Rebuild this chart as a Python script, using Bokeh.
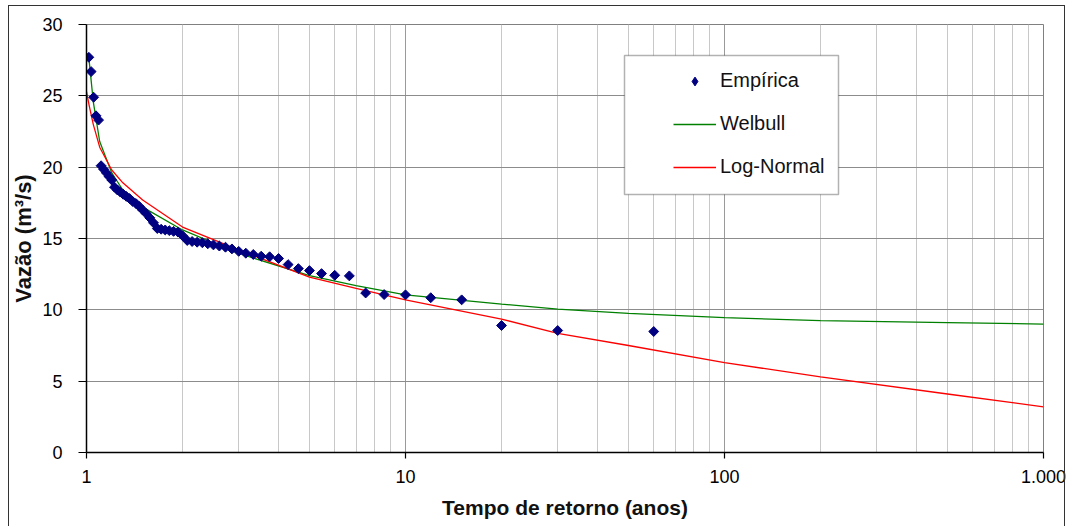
from bokeh.plotting import figure
from bokeh.models import (Range1d, FixedTicker, CustomJSTickFormatter, BoxAnnotation,
                          Legend, LegendItem, InlineStyleSheet)
from bokeh.embed import file_html
from bokeh.resources import INLINE
import math

# ---------------- data ----------------
# Empirical points: return period (years) and flow (m3/s)
emp_T = [60, 30, 20, 15, 12, 10, 8.571, 7.5, 6.667, 6, 5.455, 5, 4.615, 4.286, 4,
         3.75, 3.529, 3.333, 3.158, 3, 2.857, 2.727, 2.609, 2.5, 2.4, 2.308, 2.222,
         2.143, 2.069, 2, 1.935, 1.875, 1.818, 1.765, 1.714, 1.667, 1.622, 1.579,
         1.538, 1.5, 1.463, 1.429, 1.395, 1.364, 1.333, 1.304, 1.277, 1.25, 1.224,
         1.2, 1.176, 1.154, 1.132, 1.111, 1.091, 1.071, 1.053, 1.034, 1.017]
emp_Q = [8.48, 8.55, 8.9, 10.7, 10.85, 11.05, 11.07, 11.18, 12.38, 12.42, 12.54,
         12.75, 12.89, 13.17, 13.6, 13.72, 13.76, 13.88, 13.97, 14.1, 14.27, 14.39,
         14.47, 14.55, 14.63, 14.7, 14.74, 14.79, 14.86, 15.2, 15.45, 15.5, 15.55,
         15.6, 15.65, 15.7, 16.1, 16.45, 16.75, 17.0, 17.25, 17.45, 17.6, 17.8,
         17.95, 18.1, 18.25, 18.4, 18.6, 19.1, 19.35, 19.6, 19.85, 20.1, 23.3,
         23.6, 24.9, 26.7, 27.7]

weibull_T = [1.015, 1.02, 1.05, 1.1, 1.2, 1.3, 1.5, 2, 3, 5, 7, 10, 20, 30, 50,
             100, 200, 500, 1000]
weibull_Q = [28.0, 27.4, 24.6, 21.8, 19.6, 18.4, 17.2, 15.6, 13.95, 12.4, 11.7,
             11.05, 10.4, 10.05, 9.75, 9.45, 9.25, 9.1, 9.0]

lognormal_T = [1.0, 1.02, 1.05, 1.1, 1.2, 1.3, 1.5, 2, 3, 5, 7, 10, 20, 30, 50,
               100, 200, 500, 1000]
lognormal_Q = [25.3, 24.3, 23.0, 21.4, 19.8, 18.9, 17.7, 15.8, 14.2, 12.3, 11.5,
               10.7, 9.35, 8.35, 7.5, 6.3, 5.3, 4.1, 3.2]

x_ticks = [1, 10, 100, 1000]
x_tick_labels = ["1", "10", "100", "1.000"]
x_minor = [2, 3, 4, 5, 6, 7, 8, 9, 20, 30, 40, 50, 60, 70, 80, 90,
           200, 300, 400, 500, 600, 700, 800, 900]
y_ticks = [0, 5, 10, 15, 20, 25, 30]

series_names = ["Empírica", "Welbull", "Log-Normal"]
x_title = "Tempo de retorno (anos)"
y_title = "Vazão (m³/s)"

FONT = "Liberation Sans"
NAVY = "#000080"

p = figure(width=1073, height=527, x_axis_type="log",
           x_range=Range1d(1, 1000), y_range=Range1d(0, 30),
           output_backend="svg", toolbar_location=None)
p.min_border_left = 86
p.min_border_right = 30
p.min_border_top = 24
p.min_border_bottom = 75
p.outline_line_color = "#808080"
p.background_fill_color = "white"
p.border_fill_color = "white"

# outer chart frame (left, top and right edges; bottom is off-page in the reference)
p.stylesheets = [InlineStyleSheet(css="""
:host { position: relative; overflow: hidden; }
:host::after {
  content: ""; position: absolute; left: 8px; top: 5px;
  width: 1055px; height: 520px;
  border: 1.5px solid #333333; border-bottom: none;
  pointer-events: none; z-index: 100;
}
""")]

# axes
p.xaxis.ticker = FixedTicker(ticks=x_ticks, minor_ticks=x_minor)
p.xaxis.formatter = CustomJSTickFormatter(
    args=dict(vals=x_ticks, labs=x_tick_labels),
    code="const i = vals.indexOf(tick); return i >= 0 ? labs[i] : String(tick);")
p.yaxis.ticker = FixedTicker(ticks=y_ticks)

for ax in (p.xaxis[0], p.yaxis[0]):
    ax.axis_line_color = "black"
    ax.axis_line_width = 1.5
    ax.major_tick_line_color = "black"
    ax.major_tick_line_width = 1.2
    ax.major_tick_in = 0
    ax.minor_tick_line_color = None
    ax.major_label_text_font = FONT
    ax.major_label_text_font_size = "18px"
    ax.major_label_text_color = "black"
    ax.axis_label_text_font = FONT
    ax.axis_label_text_font_style = "bold"
    ax.axis_label_text_color = "#111111"

p.xaxis.major_tick_out = 6
p.xaxis.major_label_standoff = 11
p.xaxis.axis_label = x_title
p.xaxis.axis_label_text_font_size = "21px"
p.xaxis.axis_label_standoff = 10
p.yaxis.major_tick_out = 8
p.yaxis.major_label_standoff = 16
p.yaxis.axis_label = y_title
p.yaxis.axis_label_text_font_size = "22px"
p.yaxis.axis_label_standoff = 3

# grid
p.ygrid.grid_line_color = "#8c8c8c"
p.ygrid.grid_line_width = 1
p.xgrid.grid_line_color = "#9a9a9a"
p.xgrid.minor_grid_line_color = "#c8c8c8"
p.xgrid.minor_grid_line_width = 1

# legend box (canvas pixel units)
box = BoxAnnotation(left=624, right=838, top=55, bottom=194,
                    left_units="canvas", right_units="canvas",
                    top_units="canvas", bottom_units="canvas",
                    fill_color="white", fill_alpha=1.0,
                    line_color="black", line_width=1.5)
p.add_layout(box)

r_w = p.line(weibull_T, weibull_Q, line_color="#008000", line_width=1.3)
r_l = p.line(lognormal_T, lognormal_Q, line_color="#ff0000", line_width=1.3)
p.scatter(emp_T, emp_Q, marker="square", angle=math.pi / 4, size=7,
          fill_color=NAVY, line_color=NAVY)

# legend-only diamond renderer: same data on an off-screen range, so only the
# legend glyph is visible
p.extra_y_ranges = {"legend_only": Range1d(1000, 2000)}
r_e = p.scatter(emp_T, emp_Q, marker="diamond", size=11, y_range_name="legend_only",
                fill_color=NAVY, line_color=NAVY)

leg = Legend(items=[LegendItem(label=series_names[0], renderers=[r_e]),
                    LegendItem(label=series_names[1], renderers=[r_w]),
                    LegendItem(label=series_names[2], renderers=[r_l])],
             location=(587, 274))
leg.padding = 0
leg.margin = 0
leg.spacing = 20
leg.glyph_height = 22
leg.glyph_width = 43
leg.label_standoff = 4
leg.label_text_font = FONT
leg.label_text_font_size = "20px"
leg.label_text_color = "#111111"
leg.background_fill_alpha = 0
leg.border_line_alpha = 0
p.add_layout(leg)

open("out.html", "w").write(file_html(p, INLINE))
